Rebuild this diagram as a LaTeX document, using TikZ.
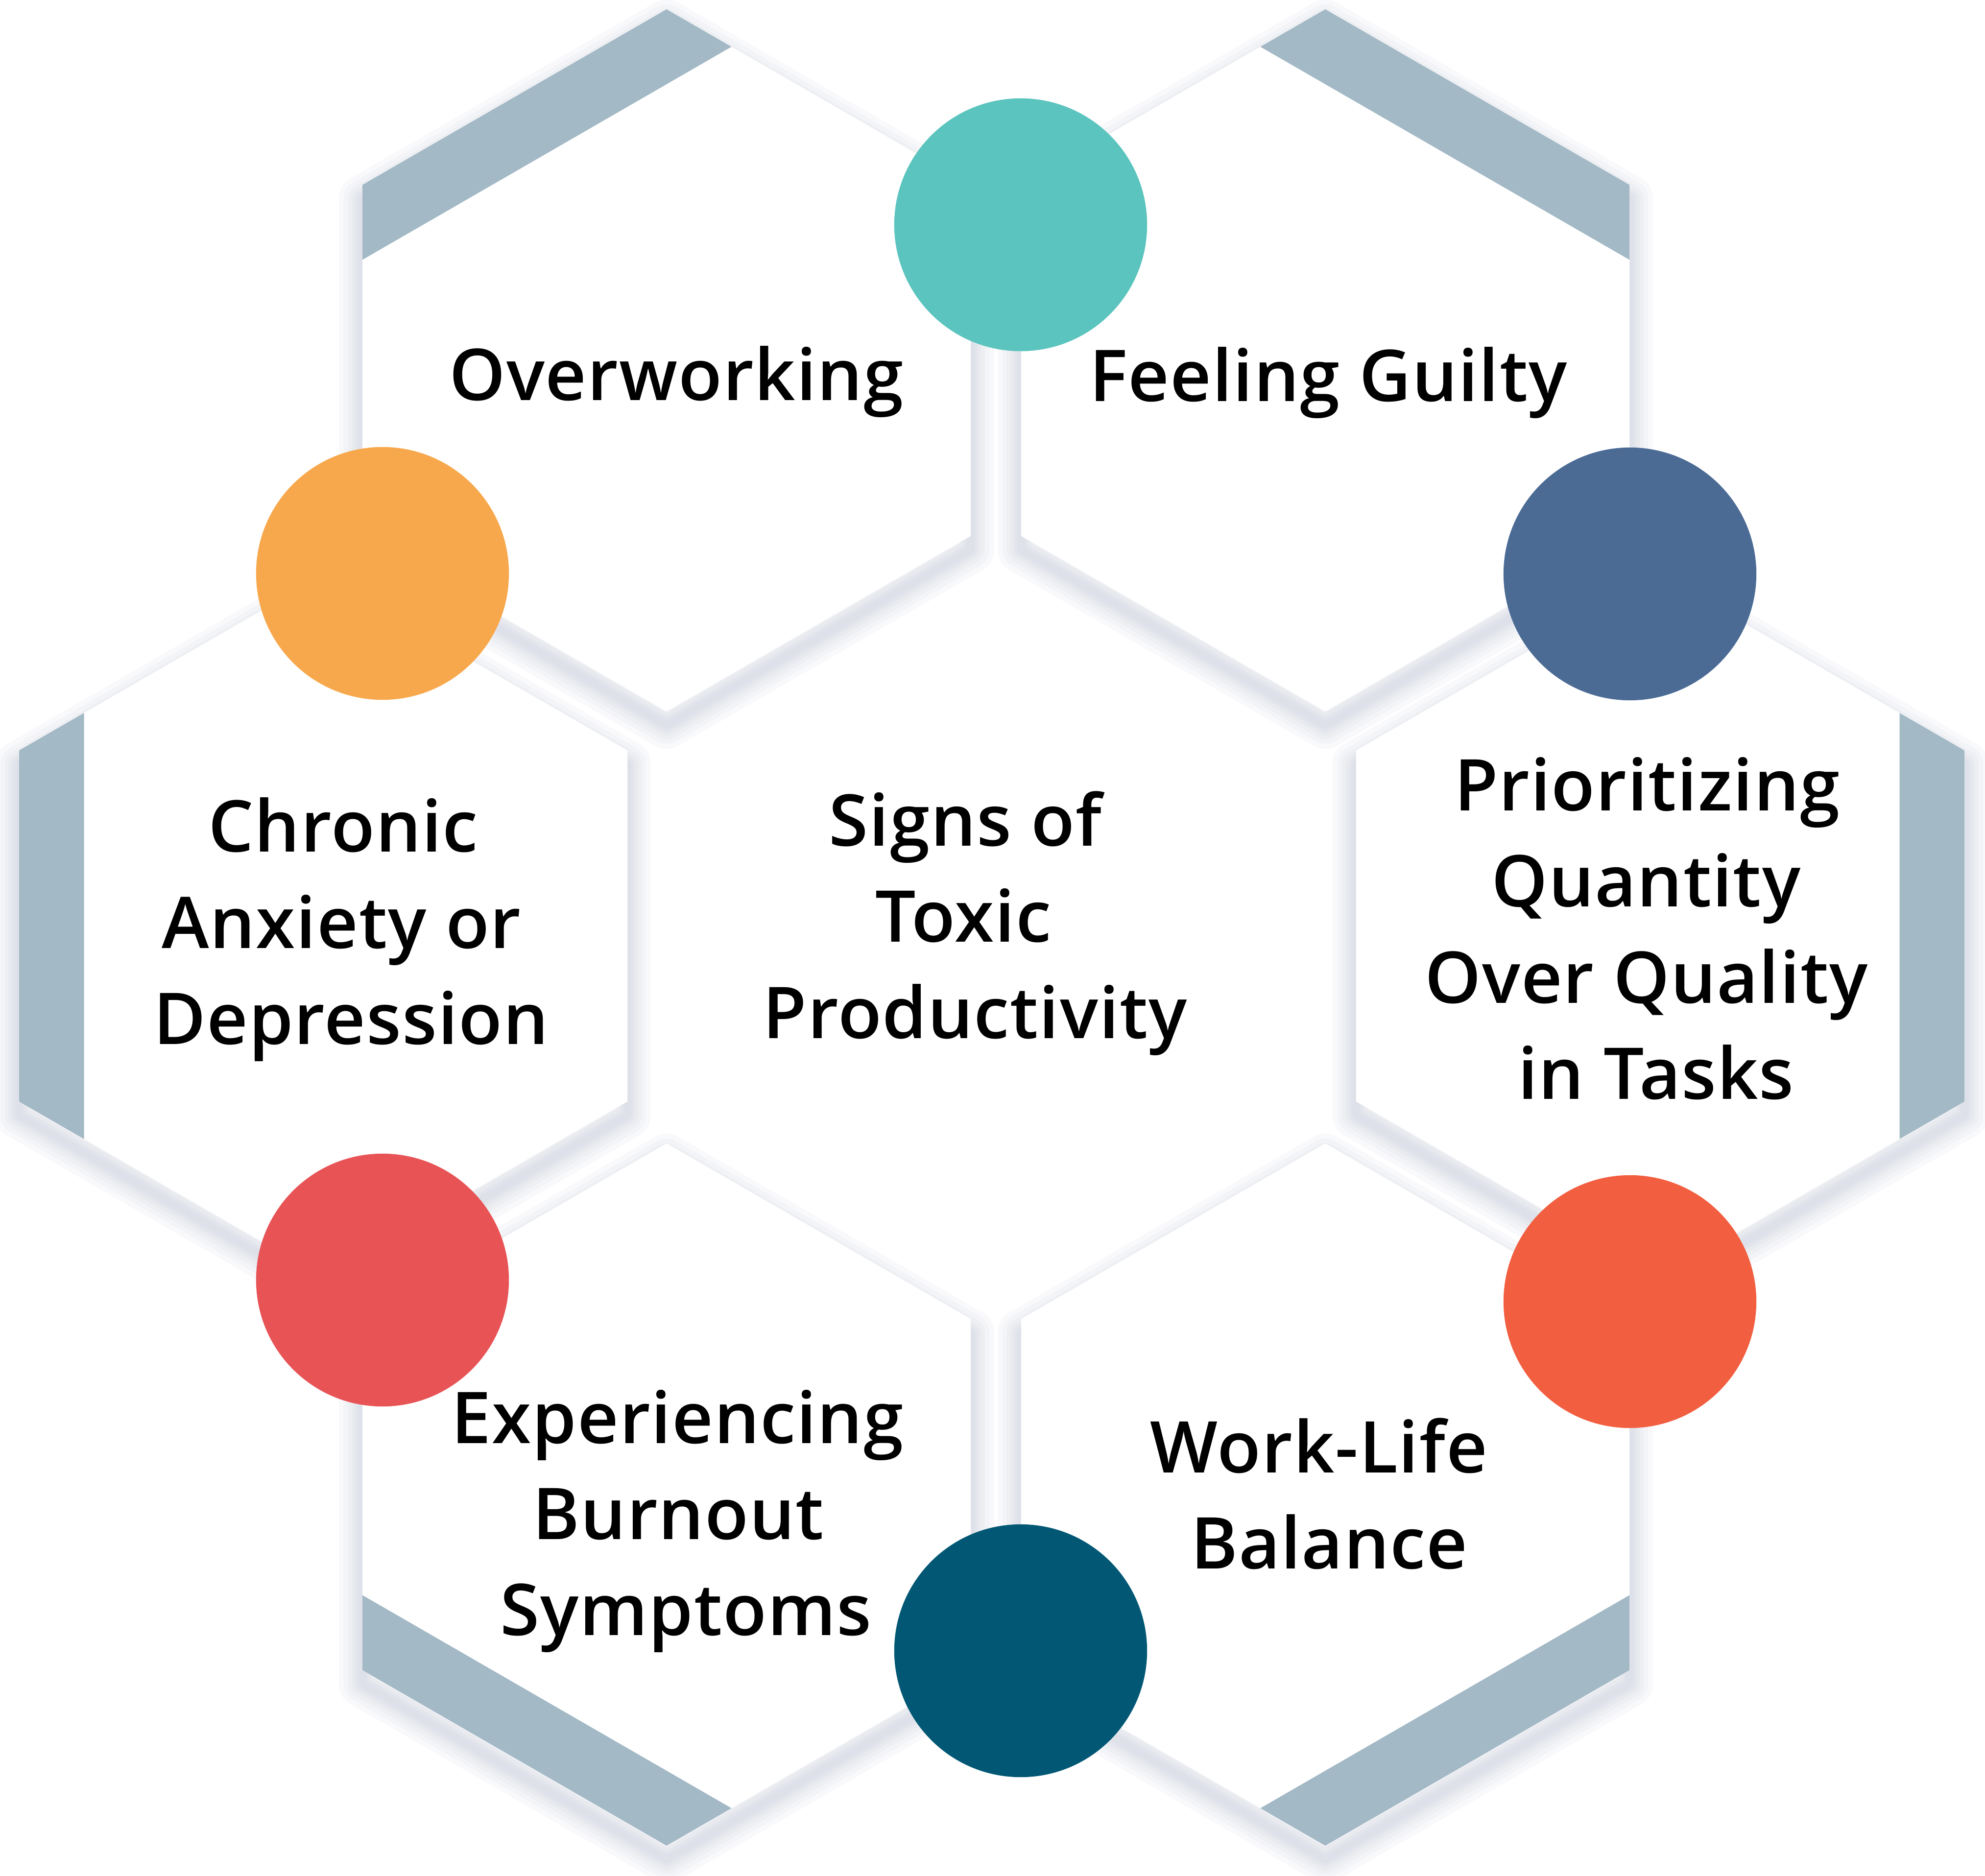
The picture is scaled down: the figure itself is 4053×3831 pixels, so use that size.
\documentclass[tikz,border=0pt]{standalone}
\usepackage{fontspec}
\IfFontExistsTF{Open Sans SemiBold}
  {\newfontfamily\labfam{Open Sans SemiBold}[LetterSpace=1.2]\newcommand\labfont{\labfam}}
  {\IfFontExistsTF{Open Sans Semibold}
    {\newfontfamily\labfam{Open Sans Semibold}[LetterSpace=1.2]\newcommand\labfont{\labfam}}
    {\IfFontExistsTF{Noto Sans SemiBold}
      {\newfontfamily\labfam{Noto Sans SemiBold}[LetterSpace=1.2]\newcommand\labfont{\labfam}}
      {\newfontfamily\labfam{Open Sans}[LetterSpace=0.5]\newcommand\labfont{\labfam\bfseries}}}}
\usetikzlibrary{calc}
\definecolor{bandc}{HTML}{A3B9C6}
\definecolor{shadowc}{HTML}{8E98B8}
\definecolor{cteal}{HTML}{5BC4BE}
\definecolor{corange}{HTML}{F8A84C}
\definecolor{cnavy}{HTML}{4B6B95}
\definecolor{cred}{HTML}{E85356}
\definecolor{ctomato}{HTML}{F25E40}
\definecolor{cpetrol}{HTML}{025874}
\newcommand\hexcoords[3]{%
  \coordinate (#1-t)  at ({#2},{#3-717});
  \coordinate (#1-ur) at ({#2+621},{#3-358.5});
  \coordinate (#1-lr) at ({#2+621},{#3+358.5});
  \coordinate (#1-b)  at ({#2},{#3+717});
  \coordinate (#1-ll) at ({#2-621},{#3+358.5});
  \coordinate (#1-ul) at ({#2-621},{#3-358.5});
}
\newcommand\hexshape[1]{(#1-t) -- (#1-ur) -- (#1-lr) -- (#1-b) -- (#1-ll) -- (#1-ul) -- cycle}
\tikzset{
  hexshadow/.style={draw=shadowc, line join=round, opacity=0.05},
  hexfill/.style={fill=white},
  bandfill/.style={fill=bandc},
  dot/.style={circle, inner sep=0pt, minimum size=5.16cm},
  lbl/.style={anchor=base, inner sep=0pt, text=black, font=\labfont\fontsize{41.5}{55.8}\selectfont},
}
\begin{document}
\begin{tikzpicture}[x=0.01cm, y=-0.01cm]
\useasboundingbox (0,0) rectangle (4053,3831);
\fill[white] (0,0) rectangle (4053,3831);
% hexagon corner coordinates
\hexcoords{tl}{1361}{736}
\hexcoords{tr}{2706}{736}
\hexcoords{l}{660}{1891}
\hexcoords{r}{3390}{1891}
\hexcoords{bl}{1361}{3052}
\hexcoords{br}{2706}{3052}
% shadow copies (shifted down)
\hexcoords{tls}{1361}{764}
\hexcoords{trs}{2706}{764}
\hexcoords{ls}{660}{1919}
\hexcoords{rs}{3390}{1919}
\hexcoords{bls}{1361}{3080}
\hexcoords{brs}{2706}{3080}
% shadows
\foreach \h in {tls,trs,ls,rs,bls,brs}{
  \foreach \w in {96,76,58,42,28,16}{
    \draw[hexshadow, line width=\w*0.1mm] \hexshape{\h};
  }
}
% hexagons
\foreach \h in {tl,tr,l,r,bl,br}{
  \fill[hexfill] \hexshape{\h};
}
% grey bands
\fill[bandfill] (tl-ul) -- (tl-t) -- ($(tl-t)!0.2134!(tl-ur)$) -- ($(tl-ul)!0.2134!(tl-ll)$) -- cycle;
\fill[bandfill] (tr-t) -- (tr-ur) -- ($(tr-ur)!0.2134!(tr-lr)$) -- ($(tr-t)!0.2134!(tr-ul)$) -- cycle;
\fill[bandfill] (l-ul) -- (l-ll) -- ($(l-ll)!0.2134!(l-b)$) -- ($(l-ul)!0.2134!(l-t)$) -- cycle;
\fill[bandfill] (r-ur) -- (r-lr) -- ($(r-lr)!0.2134!(r-b)$) -- ($(r-ur)!0.2134!(r-t)$) -- cycle;
\fill[bandfill] (bl-ll) -- (bl-b) -- ($(bl-b)!0.2134!(bl-lr)$) -- ($(bl-ll)!0.2134!(bl-ul)$) -- cycle;
\fill[bandfill] (br-b) -- (br-lr) -- ($(br-lr)!0.2134!(br-ur)$) -- ($(br-b)!0.2134!(br-ll)$) -- cycle;
% circles
\node[dot, fill=cteal]   (dteal)   at (2084,459)  {};
\node[dot, fill=corange] (dorange) at (781,1171)  {};
\node[dot, fill=cnavy]   (dnavy)   at (3328,1172) {};
\node[dot, fill=cred]    (dred)    at (781,2614)  {};
\node[dot, fill=ctomato] (dtomato) at (3328,2658) {};
\node[dot, fill=cpetrol] (dpetrol) at (2084,3371) {};
% labels
\node[lbl] (t1) at (1381,818) {Overworking};
\node[lbl] (t2) at (2712,820) {Feeling Guilty};
\node[lbl] (t3a) at (701,1739) {Chronic};
\node[lbl] (t3b) at (697,1936) {Anxiety or};
\node[lbl] (t3c) at (717,2132) {Depression};
\node[lbl] (c1) at (1971,1727) {Signs of};
\node[lbl] (c2) at (1967,1923) {Toxic};
\node[lbl] (c3) at (1991,2120) {Productivity};
\node[lbl] (t4a) at (3363,1655) {Prioritizing};
\node[lbl] (t4b) at (3361,1851) {Quantity};
\node[lbl] (t4c) at (3362,2048) {Over Quality};
\node[lbl] (t4d) at (3381,2244) {in Tasks};
\node[lbl] (t5a) at (1383,2947) {Experiencing};
\node[lbl] (t5b) at (1385,3143) {Burnout};
\node[lbl] (t5c) at (1401,3339) {Symptoms};
\node[lbl] (t6a) at (2693,3007) {Work-Life};
\node[lbl] (t6b) at (2714,3203) {Balance};
\end{tikzpicture}
\end{document}
